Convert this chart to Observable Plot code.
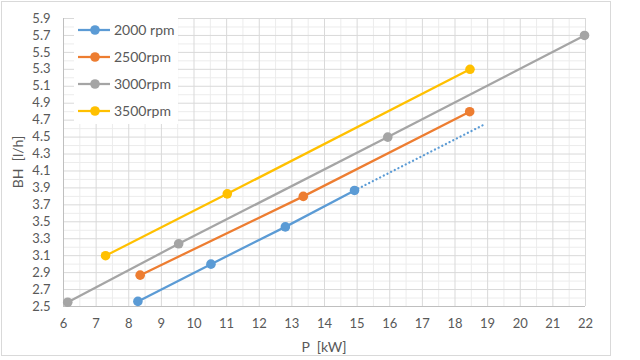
<!DOCTYPE html>
<html>
<head>
<meta charset="utf-8">
<script src="https://cdn.jsdelivr.net/npm/d3@7"></script>
<script src="https://cdn.jsdelivr.net/npm/@observablehq/plot@0.6"></script>
<style>
  html, body { margin: 0; padding: 0; background: #fff; }
  #wrap { position: relative; width: 640px; height: 360px; font-family: Lato, "Open Sans", sans-serif; }
  #frame { position: absolute; left: 1px; top: 1px; width: 610px; height: 355px; border: 1px solid #d9d9d9; box-sizing: border-box; pointer-events: none; }
  #legend { position: absolute; left: 74px; top: 16px; width: 104px; background: #fff; padding: 0; }
  .lrow { height: 27px; display: flex; align-items: center; font-size: 14px; color: #595959; }
  .lrow svg { margin-right: 4px; }
</style>
</head>
<body>
<div id="wrap"></div>
<script>
// ---- data ----
const series = ["2000 rpm", "2500rpm", "3000rpm", "3500rpm"];
const colors = ["#5B9BD5", "#ED7D31", "#A5A5A5", "#FFC000"];
const p2000 = [8.28, 10.52, 12.8, 14.92];
const bh2000 = [2.56, 3.0, 3.44, 3.87];
const p2500 = [8.35, 13.35, 18.45];
const bh2500 = [2.87, 3.80, 4.80];
const p3000 = [6.13, 9.53, 15.94, 21.97];
const bh3000 = [2.55, 3.24, 4.50, 5.70];
const p3500 = [7.29, 11.02, 18.46];
const bh3500 = [3.10, 3.83, 5.30];
// dotted trend extension of the 2000 rpm series
const trendP = [14.92, 18.85];
const trendBH = [3.87, 4.64];
const xTicks = [6,7,8,9,10,11,12,13,14,15,16,17,18,19,20,21,22];
const yTicks = [2.5,2.7,2.9,3.1,3.3,3.5,3.7,3.9,4.1,4.3,4.5,4.7,4.9,5.1,5.3,5.5,5.7,5.9];
const xMinor = [6.5,7.5,8.5,9.5,10.5,11.5,12.5,13.5,14.5,15.5,16.5,17.5,18.5,19.5,20.5,21.5];
const yMinor = [2.6,2.8,3.0,3.2,3.4,3.6,3.8,4.0,4.2,4.4,4.6,4.8,5.0,5.2,5.4,5.6,5.8];
const xLabel = "P  [kW]";
const yLabel = "BH  [l/h]";

const pList = [p2000, p2500, p3000, p3500];
const bhList = [bh2000, bh2500, bh3000, bh3500];
const rows = [];
series.forEach((s, i) => pList[i].forEach((p, j) => rows.push({s, p, bh: bhList[i][j]})));
const trend = trendP.map((p, j) => ({p, bh: trendBH[j]}));

const chart = Plot.plot({
  width: 640,
  height: 360,
  marginLeft: 63,
  marginRight: 55,
  marginTop: 18,
  marginBottom: 54,
  style: {fontFamily: "Lato, 'Open Sans', sans-serif", fontSize: "13px", color: "#595959", background: "transparent"},
  x: {domain: [6, 22], ticks: xTicks, tickSize: 0, tickPadding: 12, label: null},
  y: {domain: [2.5, 5.9], ticks: yTicks, tickSize: 0, tickPadding: 13, tickFormat: d3.format(".1f"), label: null},
  color: {domain: series, range: colors},
  marks: [
    Plot.ruleX(xMinor, {stroke: "#ececec", strokeWidth: 1}),
    Plot.ruleY(yMinor, {stroke: "#ececec", strokeWidth: 1}),
    Plot.ruleX(xTicks, {stroke: "#d9d9d9", strokeWidth: 1}),
    Plot.ruleY(yTicks, {stroke: "#d9d9d9", strokeWidth: 1}),
    Plot.ruleY([2.5], {stroke: "#bfbfbf", strokeWidth: 1}),
    Plot.ruleX([6], {stroke: "#bfbfbf", strokeWidth: 1}),
    Plot.line(trend, {x: "p", y: "bh", stroke: colors[0], strokeWidth: 2.25, strokeDasharray: "0.1 4", strokeLinecap: "round"}),
    Plot.line(rows, {x: "p", y: "bh", z: "s", stroke: "s", strokeWidth: 2.25}),
    Plot.dot(rows, {x: "p", y: "bh", fill: "s", r: 4.8, stroke: null}),
    Plot.axisX({ticks: xTicks, tickSize: 0, tickPadding: 12, fontSize: 13}),
    Plot.axisY({ticks: yTicks, tickSize: 0, tickPadding: 13, tickFormat: d3.format(".1f"), fontSize: 13}),
  ]
});
chart.style.position = "absolute";
chart.style.left = "0px";
chart.style.top = "0px";

const wrap = document.getElementById("wrap");
wrap.appendChild(chart);

// axis titles as text overlays
const svgNS = "http://www.w3.org/2000/svg";
const tx = document.createElementNS(svgNS, "text");
tx.setAttribute("x", 324); tx.setAttribute("y", 352);
tx.setAttribute("text-anchor", "middle"); tx.setAttribute("font-size", "14");
tx.setAttribute("fill", "#595959"); tx.setAttribute("xml:space", "preserve");
tx.style.whiteSpace = "pre";
tx.textContent = xLabel;
chart.appendChild(tx);
const ty = document.createElementNS(svgNS, "text");
ty.setAttribute("transform", "translate(23,162) rotate(-90)");
ty.setAttribute("text-anchor", "middle"); ty.setAttribute("font-size", "14");
ty.setAttribute("fill", "#595959");
ty.style.whiteSpace = "pre";
ty.textContent = yLabel;
chart.appendChild(ty);

// legend
const leg = document.createElement("div");
leg.id = "legend";
series.forEach((s, i) => {
  const r = document.createElement("div");
  r.className = "lrow";
  r.innerHTML = `<svg width="36" height="12"><line x1="4" y1="6" x2="36" y2="6" stroke="${colors[i]}" stroke-width="2.25"/><circle cx="21" cy="6" r="4.8" fill="${colors[i]}"/></svg><span>${s}</span>`;
  leg.appendChild(r);
});
wrap.appendChild(leg);

const frame = document.createElement("div");
frame.id = "frame";
wrap.appendChild(frame);
</script>
</body>
</html>
